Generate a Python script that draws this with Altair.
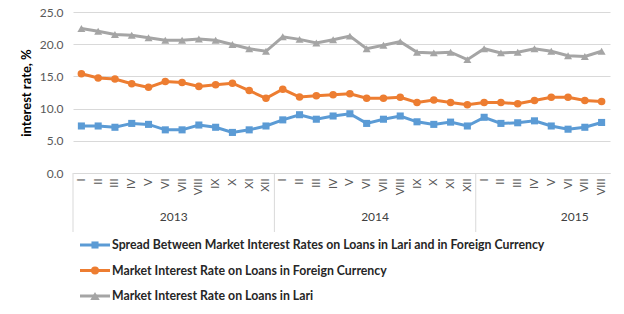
import altair as alt
import pandas as pd

months = ["I", "II", "III", "IV", "V", "VI", "VII", "VIII", "IX", "X", "XI", "XII",
          "I", "II", "III", "IV", "V", "VI", "VII", "VIII", "IX", "X", "XI", "XII",
          "I", "II", "III", "IV", "V", "VI", "VII", "VIII"]
years = ["2013", "2014", "2015"]
year_pos = [6, 18, 29.9]
year_sep = [0, 12, 24]

spread = [7.3, 7.3, 7.1, 7.7, 7.55, 6.7, 6.7, 7.45, 7.1, 6.3, 6.7, 7.3,
          8.25, 9.05, 8.35, 8.85, 9.2, 7.7, 8.35, 8.85, 7.95, 7.55, 7.9, 7.3,
          8.65, 7.7, 7.8, 8.1, 7.3, 6.8, 7.1, 7.85]
fx = [15.4, 14.75, 14.6, 13.85, 13.3, 14.2, 14.05, 13.45, 13.7, 13.95, 12.8, 11.6,
      13.0, 11.8, 12.0, 12.15, 12.3, 11.6, 11.6, 11.75, 10.95, 11.35, 10.95, 10.6,
      10.95, 10.95, 10.75, 11.25, 11.75, 11.75, 11.25, 11.1]
lari = [22.45, 22.0, 21.5, 21.4, 21.0, 20.6, 20.6, 20.8, 20.6, 19.95, 19.3, 18.9,
        21.15, 20.75, 20.2, 20.7, 21.25, 19.3, 19.85, 20.4, 18.75, 18.65, 18.75, 17.6,
        19.3, 18.65, 18.75, 19.3, 18.9, 18.2, 18.1, 18.9]

names = ["Spread Between Market Interest Rates on Loans in Lari and in Foreign Currency",
         "Market Interest Rate on Loans in Foreign Currency",
         "Market Interest Rate on Loans in Lari"]
colors = ["#5B9BD5", "#ED7D31", "#A5A5A5"]
shapes = ["square", "circle", "triangle-up"]
sizes = [50, 64, 90]

FONT = "Lato"

rows = []
for name, vals in zip(names, [spread, fx, lari]):
    for i, v in enumerate(vals):
        rows.append({"pos": i + 0.5, "series": name, "value": v})
df = pd.DataFrame(rows)

xscale = alt.Scale(domain=[0, len(months)], nice=False, zero=False)
yscale = alt.Scale(domain=[0, 25], nice=False)
cscale = alt.Scale(domain=names, range=colors)

label_expr = "[" + ",".join("'" + m + "'" for m in months) + "][floor(datum.value)]"

xaxis = alt.Axis(values=[i + 0.5 for i in range(len(months))],
                 labelExpr=label_expr, labelAngle=270, labelOverlap=False,
                 labelFlush=False, grid=False, ticks=False,
                 domainColor="#D9D9D9", labelFont=FONT, labelFontSize=11,
                 labelColor="#595959", labelPadding=5, title=None)
yaxis = alt.Axis(values=[0, 5, 10, 15, 20, 25], format=".1f", grid=True,
                 gridColor="#D9D9D9", domain=False, ticks=False, labelOverlap=False,
                 labelFont=FONT, labelFontSize=12, labelColor="#595959",
                 labelPadding=10, title="interest rate, %",
                 titleFont=FONT, titleFontSize=13, titleFontWeight="bold",
                 titleColor="#000000", titlePadding=6)

base = alt.Chart(df)

lines = base.mark_line(strokeWidth=3).encode(
    x=alt.X("pos:Q", scale=xscale, axis=xaxis),
    y=alt.Y("value:Q", scale=yscale, axis=yaxis),
    color=alt.Color("series:N", scale=cscale, legend=None),
    detail="series:N",
)

points = base.mark_point(filled=True, opacity=1).encode(
    x=alt.X("pos:Q", scale=xscale, axis=xaxis),
    y=alt.Y("value:Q", scale=yscale, axis=yaxis),
    color=alt.Color("series:N", scale=cscale, legend=None),
    shape=alt.Shape("series:N", scale=alt.Scale(domain=names, range=shapes), legend=None),
    size=alt.Size("series:N", scale=alt.Scale(domain=names, range=sizes), legend=None),
)

sep_df = pd.DataFrame({"sep": year_sep})
seps = alt.Chart(sep_df).mark_rule(color="#D9D9D9", strokeWidth=1).encode(
    x=alt.X("sep:Q", scale=xscale, axis=xaxis),
    y=alt.value(161),
    y2=alt.value(220),
)

yr_df = pd.DataFrame({"year": years, "pos": year_pos})
yrs = alt.Chart(yr_df).mark_text(font=FONT, fontSize=12, color="#404040",
                                 baseline="middle", align="center").encode(
    x=alt.X("pos:Q", scale=xscale, axis=xaxis),
    y=alt.value(205),
    text="year:N",
)

leg_df = pd.DataFrame({"name": names, "color": colors})
legend_layers = []
for k, (name, col, shp, sz) in enumerate(zip(names, colors, shapes, sizes)):
    ly = 233 + 25.5 * k
    src = alt.Chart(leg_df).transform_filter(alt.datum.name == name)
    legend_layers.append(src.mark_rule(color=col, strokeWidth=3).encode(
        x=alt.value(7), x2=alt.value(37), y=alt.value(ly)))
    legend_layers.append(src.mark_point(filled=True, opacity=1, color=col, shape=shp,
                                        size=sz).encode(x=alt.value(22), y=alt.value(ly)))
    legend_layers.append(src.mark_text(font=FONT, fontSize=12.3, fontWeight="bold",
                                       color="#262626", align="left",
                                       baseline="middle").encode(
        x=alt.value(39), y=alt.value(ly), text="name:N"))

chart = alt.layer(lines, points, seps, yrs, *legend_layers).properties(
    width=537, height=161,
    autosize=alt.AutoSizeParams(type="none"),
    padding={"left": 73, "top": 12, "right": 14, "bottom": 141},
).configure_view(stroke=None).configure_axis(labelOverlap=False)

chart.save("out.html", embed_options={"renderer": "svg", "actions": False})
